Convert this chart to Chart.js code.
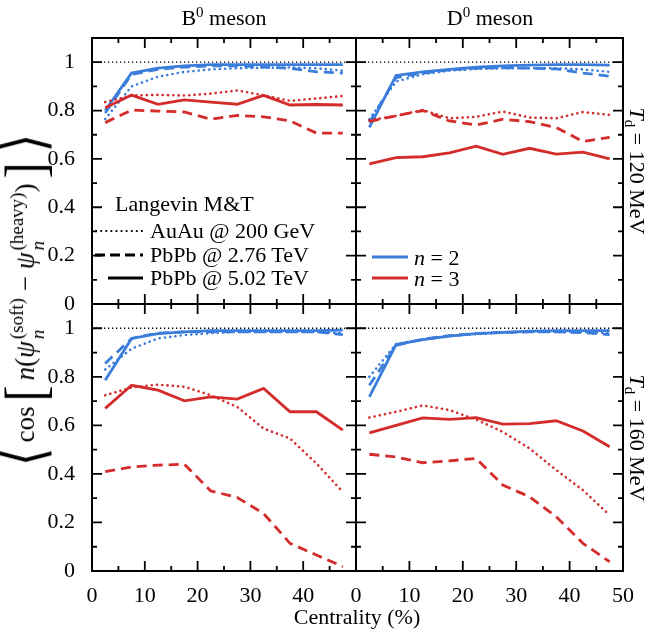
<!DOCTYPE html>
<html>
<head>
<meta charset="utf-8">
<script src="https://cdn.jsdelivr.net/npm/chart.js@4.4.1/dist/chart.umd.min.js"></script>
<style>
  body { margin: 0; background: #fff; }
  #wrap { position: relative; width: 652px; height: 633px; overflow: hidden;
          font-family: "Liberation Serif", "DejaVu Serif", serif; color: #000; }
  #wrap canvas { position: absolute; left: 0; top: 0; }
  .lbl { position: absolute; font-size: 22px; line-height: 1; white-space: nowrap; }
  .ctr { transform: translate(-50%, -50%); }
  .rot90 { transform: translate(-50%, -50%) rotate(90deg); }
  .rotm90 { transform: translate(-50%, -50%) rotate(-90deg); }
  .lbl sup { font-size: 15px; vertical-align: 8px; line-height: 0; }
  .lbl sub { font-size: 15px; vertical-align: -5px; line-height: 0; }
  #ytitle { font-size: 27px; }
  .ss { display: inline-flex; flex-direction: column; font-size: 19px; line-height: 1.1;
        vertical-align: middle; margin-left: 2px; }
  .big { font-size: 48px; display: inline-block; transform: scaleY(1.2); vertical-align: -7px; margin: 0 5px; }
  .leg { position: absolute; }
</style>
</head>
<body>
<div id="wrap">
  <canvas id="c_tl" width="652" height="633"></canvas>
  <canvas id="c_tr" width="652" height="633"></canvas>
  <canvas id="c_bl" width="652" height="633"></canvas>
  <canvas id="c_br" width="652" height="633"></canvas>

  <div class="lbl ctr" style="left:224px;top:18px">B<sup>0</sup> meson</div>
  <div class="lbl ctr" style="left:490px;top:18px">D<sup>0</sup> meson</div>
  <div class="lbl rot90" style="left:637px;top:171px"><i>T</i><sub>d</sub> = 120 MeV</div>
  <div class="lbl rot90" style="left:637px;top:438px"><i>T</i><sub>d</sub> = 160 MeV</div>
  <div class="lbl ctr" style="left:357px;top:617px">Centrality (%)</div>
  <div id="ytitle" class="lbl rotm90" style="left:25px;top:300px"><span class="big">⟨</span>cos<span class="big">[</span><i>n</i>(<i>ψ</i><span class="ss"><span>(soft)</span><span><i>n</i></span></span>&nbsp;−&nbsp;<i>ψ</i><span class="ss"><span>(heavy)</span><span><i>n</i></span></span>)<span class="big">]</span><span class="big">⟩</span></div>

  <!-- collision system legend -->
  <div class="lbl" style="left:115px;top:193px">Langevin M&amp;T</div>
  <svg class="leg" style="left:93px;top:222px" width="52" height="66">
    <line x1="3" y1="9" x2="50" y2="9" stroke="#000" stroke-width="2.2" stroke-dasharray="0.1 5" stroke-linecap="round"/>
    <line x1="2" y1="33" x2="50" y2="33" stroke="#000" stroke-width="3" stroke-dasharray="10 5"/>
    <line x1="15" y1="56" x2="50" y2="56" stroke="#000" stroke-width="3"/>
  </svg>
  <div class="lbl" style="left:150px;top:220px">AuAu @ 200 GeV</div>
  <div class="lbl" style="left:150px;top:244px">PbPb @ 2.76 TeV</div>
  <div class="lbl" style="left:150px;top:267px">PbPb @ 5.02 TeV</div>

  <!-- harmonic legend -->
  <svg class="leg" style="left:370px;top:246px" width="40" height="40">
    <line x1="2" y1="11" x2="38" y2="11" stroke="#3b7ddb" stroke-width="3"/>
    <line x1="2" y1="32" x2="38" y2="32" stroke="#d42b2b" stroke-width="3"/>
  </svg>
  <div class="lbl" style="left:414px;top:247px"><i>n</i> = 2</div>
  <div class="lbl" style="left:414px;top:268px"><i>n</i> = 3</div>
</div>

<script>
// centrality bin centres (%)
const cent = [2.5, 7.5, 12.5, 17.5, 22.5, 27.5, 32.5, 37.5, 42.5, 47.5];

// B0 meson, Td = 120 MeV
const bLow_n2_auau  = [0.765, 0.900, 0.940, 0.960, 0.970, 0.975, 0.977, 0.978, 0.975, 0.965];
const bLow_n2_pb276 = [0.790, 0.950, 0.970, 0.980, 0.985, 0.985, 0.980, 0.975, 0.960, 0.955];
const bLow_n2_pb502 = [0.800, 0.955, 0.975, 0.985, 0.990, 0.990, 0.990, 0.990, 0.990, 0.990];
const bLow_n3_auau  = [0.835, 0.862, 0.865, 0.862, 0.870, 0.883, 0.863, 0.840, 0.850, 0.860];
const bLow_n3_pb276 = [0.750, 0.802, 0.798, 0.794, 0.764, 0.780, 0.774, 0.757, 0.707, 0.707];
const bLow_n3_pb502 = [0.812, 0.864, 0.826, 0.844, 0.835, 0.826, 0.863, 0.823, 0.825, 0.823];

// D0 meson, Td = 120 MeV
const dLow_n2_auau  = [0.764, 0.920, 0.950, 0.965, 0.972, 0.975, 0.975, 0.975, 0.970, 0.960];
const dLow_n2_pb276 = [0.750, 0.936, 0.955, 0.968, 0.975, 0.977, 0.975, 0.972, 0.955, 0.942];
const dLow_n2_pb502 = [0.730, 0.945, 0.960, 0.970, 0.979, 0.985, 0.988, 0.990, 0.990, 0.988];
const dLow_n3_auau  = [0.760, 0.778, 0.802, 0.768, 0.774, 0.796, 0.771, 0.768, 0.794, 0.782];
const dLow_n3_pb276 = [0.755, 0.778, 0.800, 0.757, 0.740, 0.764, 0.754, 0.730, 0.672, 0.689];
const dLow_n3_pb502 = [0.579, 0.605, 0.609, 0.625, 0.653, 0.619, 0.644, 0.620, 0.628, 0.600];

// B0 meson, Td = 160 MeV
const bHigh_n2_auau  = [0.830, 0.916, 0.958, 0.972, 0.980, 0.985, 0.985, 0.985, 0.985, 0.980];
const bHigh_n2_pb276 = [0.855, 0.958, 0.980, 0.985, 0.985, 0.985, 0.985, 0.985, 0.985, 0.974];
const bHigh_n2_pb502 = [0.786, 0.958, 0.978, 0.985, 0.990, 0.990, 0.990, 0.990, 0.990, 0.992];
const bHigh_n3_auau  = [0.724, 0.756, 0.768, 0.759, 0.724, 0.676, 0.587, 0.546, 0.443, 0.326];
const bHigh_n3_pb276 = [0.409, 0.429, 0.436, 0.440, 0.330, 0.303, 0.237, 0.114, 0.066, 0.018];
const bHigh_n3_pb502 = [0.670, 0.765, 0.745, 0.701, 0.717, 0.708, 0.752, 0.656, 0.656, 0.580];

// D0 meson, Td = 160 MeV
const dHigh_n2_auau  = [0.800, 0.935, 0.955, 0.968, 0.976, 0.982, 0.985, 0.985, 0.985, 0.980];
const dHigh_n2_pb276 = [0.765, 0.930, 0.955, 0.970, 0.978, 0.983, 0.985, 0.985, 0.982, 0.974];
const dHigh_n2_pb502 = [0.717, 0.933, 0.953, 0.968, 0.978, 0.983, 0.988, 0.990, 0.990, 0.990];
const dHigh_n3_auau  = [0.632, 0.656, 0.682, 0.663, 0.624, 0.573, 0.505, 0.416, 0.333, 0.230];
const dHigh_n3_pb276 = [0.481, 0.470, 0.446, 0.454, 0.464, 0.354, 0.306, 0.223, 0.114, 0.038];
const dHigh_n3_pb502 = [0.569, 0.600, 0.631, 0.625, 0.632, 0.605, 0.607, 0.619, 0.577, 0.512];

// dotted reference line at unity
const refX = [0, 50];
const refY = [1, 1];

// axis tick labels
const yLabels = [0, 0.2, 0.4, 0.6, 0.8, 1];
const xLabelsLeft = [0, 10, 20, 30, 40];
const xLabelsRight = [0, 10, 20, 30, 40, 50];

const W = 652, H = 633;
const BLUE = '#3b7ddb', RED = '#d42b2b';
const FONT = {family: '"Liberation Serif", "DejaVu Serif", serif', size: 22};
// auau dotted, 2.76 dashed, 5.02 solid
const dashes = [[0.1, 5.2], [10, 6], []];

function line_set(vals, color, k) {
  return {
    data: cent.map((c, i) => ({x: c, y: vals[i]})),
    borderColor: color,
    borderWidth: k == 0 ? 2.6 : 2.8,
    borderDash: dashes[k],
    borderCapStyle: k == 0 ? 'round' : 'butt',
    pointRadius: 0,
    tension: 0,
    fill: false
  };
}

// frame with inward ticks on every side of a panel
const frame_ticks = {
  id: 'frame_ticks',
  afterDraw(chart) {
    let {ctx, chartArea: a, scales: {x, y}} = chart;
    ctx.save();
    ctx.strokeStyle = '#000';
    ctx.lineWidth = 1.8;
    ctx.beginPath();
    for (let v = 5; v < 50; v += 5) {
      let px = x.getPixelForValue(v), len = v % 10 == 0 ? 10 : 5;
      ctx.moveTo(px, a.bottom); ctx.lineTo(px, a.bottom - len);
      ctx.moveTo(px, a.top); ctx.lineTo(px, a.top + len);
    }
    for (let k = 1; k <= 10; k++) {
      let py = y.getPixelForValue(k / 10), len = k % 2 == 0 ? 10 : 5;
      ctx.moveTo(a.left, py); ctx.lineTo(a.left + len, py);
      ctx.moveTo(a.right, py); ctx.lineTo(a.right - len, py);
    }
    ctx.stroke();
    ctx.lineWidth = 2;
    ctx.strokeRect(a.left, a.top, a.right - a.left, a.bottom - a.top);
    ctx.restore();
  }
};

function draw_panel(id, box, n2, n3, showY, xLabels) {
  let datasets = [
    {data: refX.map((v, i) => ({x: v, y: refY[i]})), borderColor: '#000', borderWidth: 1.3,
     borderDash: [1.3, 2.7], pointRadius: 0, fill: false}
  ];
  n3.forEach((s, k) => datasets.push(line_set(s, RED, k)));
  n2.forEach((s, k) => datasets.push(line_set(s, BLUE, k)));

  let showX = !!xLabels;
  // the label boxes of the shown axes fill the margin, so labels are not clipped
  let pad = {
    left: showY ? 0 : box.l,
    top: box.t,
    right: W - box.r,
    bottom: showX ? 0 : H - box.b
  };

  new Chart(document.getElementById(id), {
    type: 'line',
    data: {datasets},
    options: {
      responsive: false,
      animation: false,
      devicePixelRatio: 1,
      layout: {padding: pad},
      plugins: {legend: {display: false}, tooltip: {enabled: false}},
      scales: {
        x: {
          type: 'linear', min: 0, max: 50,
          display: showX,
          grid: {display: false}, border: {display: false},
          ticks: {color: '#000', font: FONT, padding: 4, maxRotation: 0, autoSkip: false,
                  callback: v => String(v)},
          afterBuildTicks: s => { s.ticks = (xLabels || []).map(v => ({value: v})); },
          afterFit: s => { s.height = showX ? H - box.b : 0; }
        },
        y: {
          type: 'linear', min: 0, max: 1.1,
          display: showY,
          grid: {display: false}, border: {display: false},
          ticks: {color: '#000', font: FONT, padding: 9, autoSkip: false,
                  callback: v => String(v)},
          afterBuildTicks: s => { s.ticks = yLabels.map(v => ({value: v})); },
          afterFit: s => { s.width = showY ? box.l : 0; }
        }
      }
    },
    plugins: [frame_ticks]
  });
}

const L = 92, M = 356, R = 623, T = 38, MID = 304, B = 571;

draw_panel('c_tl', {l: L, t: T, r: M, b: MID},
  [bLow_n2_auau, bLow_n2_pb276, bLow_n2_pb502], [bLow_n3_auau, bLow_n3_pb276, bLow_n3_pb502], true, null);
draw_panel('c_tr', {l: M, t: T, r: R, b: MID},
  [dLow_n2_auau, dLow_n2_pb276, dLow_n2_pb502], [dLow_n3_auau, dLow_n3_pb276, dLow_n3_pb502], false, null);
draw_panel('c_bl', {l: L, t: MID, r: M, b: B},
  [bHigh_n2_auau, bHigh_n2_pb276, bHigh_n2_pb502], [bHigh_n3_auau, bHigh_n3_pb276, bHigh_n3_pb502], true, xLabelsLeft);
draw_panel('c_br', {l: M, t: MID, r: R, b: B},
  [dHigh_n2_auau, dHigh_n2_pb276, dHigh_n2_pb502], [dHigh_n3_auau, dHigh_n3_pb276, dHigh_n3_pb502], false, xLabelsRight);
</script>
</body>
</html>
